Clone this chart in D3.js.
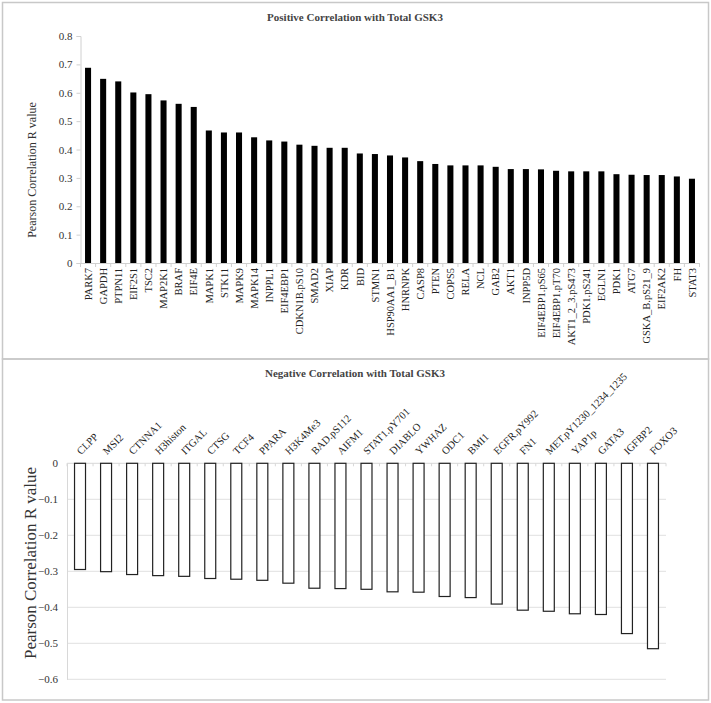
<!DOCTYPE html>
<html><head><meta charset="utf-8">
<script src="https://cdn.jsdelivr.net/npm/d3@7"></script>
<style>body{margin:0;background:#fff}svg{display:block}</style>
</head><body>
<script>
const posCategories = ["PARK7","GAPDH","PTPN11","EIF2S1","TSC2","MAP2K1","BRAF","EIF4E","MAPK1","STK11","MAPK9","MAPK14","INPPL1","EIF4EBP1","CDKN1B.pS10","SMAD2","XIAP","KDR","BID","STMN1","HSP90AA1_B1","HNRNPK","CASP8","PTEN","COPS5","RELA","NCL","GAB2","AKT1","INPP5D","EIF4EBP1.pS65","EIF4EBP1.pT70","AKT1_2_3.pS473","PDK1.pS241","EGLN1","PDK1","ATG7","GSKA_B.pS21_9","EIF2AK2","FH","STAT3"];
const posValues = [0.688,0.649,0.640,0.601,0.595,0.573,0.561,0.550,0.467,0.460,0.460,0.443,0.432,0.428,0.417,0.413,0.406,0.406,0.386,0.384,0.379,0.372,0.359,0.349,0.344,0.344,0.344,0.339,0.331,0.331,0.330,0.325,0.323,0.323,0.323,0.313,0.311,0.310,0.310,0.305,0.297];
const posTicks = [0,0.1,0.2,0.3,0.4,0.5,0.6,0.7,0.8];
const negCategories = ["CLPP","MSI2","CTNNA1","H3histon","ITGAL","CTSG","TCF4","PPARA","H3K4Me3","BAD.pS112","AIFM1","STAT1.pY701","DIABLO","YWHAZ","ODC1","BMI1","EGFR.pY992","FN1","MET.pY1230_1234_1235","YAP1p","GATA3","IGFBP2","FOXO3"];
const negValues = [-0.295,-0.301,-0.309,-0.312,-0.314,-0.320,-0.322,-0.325,-0.333,-0.347,-0.348,-0.350,-0.357,-0.358,-0.370,-0.373,-0.391,-0.408,-0.411,-0.418,-0.420,-0.473,-0.515];
const negTicks = [0,-0.1,-0.2,-0.3,-0.4,-0.5,-0.6];

const W = 711, H = 703;
const serif = "'Liberation Serif','Times New Roman',serif";
const svg = d3.select("body").append("svg").attr("width", W).attr("height", H);

// panel borders
svg.append("rect").attr("x",2.5).attr("y",2.5).attr("width",706).attr("height",356.5)
  .attr("fill","none").attr("stroke","#c8c8c8").attr("stroke-width",1.5);
svg.append("rect").attr("x",2.5).attr("y",359).attr("width",706).attr("height",341)
  .attr("fill","none").attr("stroke","#c8c8c8").attr("stroke-width",1.5);

// ---------- Top chart ----------
{
  const x = d3.scaleBand().domain(posCategories).range([80.5, 699.5]).paddingInner(0.6).paddingOuter(0.3);
  const y = d3.scaleLinear().domain([0, 0.8]).range([263, 36]);
  const g = svg.append("g");

  g.append("text").attr("x", 355).attr("y", 21).attr("text-anchor","middle")
    .attr("font-family", serif).attr("font-weight","bold").attr("font-size", 11).attr("fill","#444")
    .text("Positive Correlation with Total GSK3");

  const ya = g.append("g").attr("transform","translate(80.5,0)")
    .call(d3.axisLeft(y).tickValues(posTicks).tickFormat(d => d === 0 ? "0" : d3.format(".1f")(d)).tickSize(4).tickPadding(4));
  ya.select(".domain").attr("stroke","#d0d0d0");
  ya.selectAll(".tick line").attr("stroke","#d0d0d0");
  ya.selectAll("text").attr("font-family", serif).attr("font-size", 11).attr("fill","#333");

  g.selectAll("rect.bar").data(posValues).join("rect").attr("class","bar")
    .attr("x", (d,i) => x(posCategories[i])).attr("width", x.bandwidth())
    .attr("y", d => y(d)).attr("height", d => y(0) - y(d)).attr("fill","#000");

  const step = x.step();
  const x0 = 80.5;
  g.append("line").attr("x1", x0).attr("x2", 699.5).attr("y1", y(0)+0.5).attr("y2", y(0)+0.5).attr("stroke","#d0d0d0");
  g.selectAll("line.xt").data(d3.range(posCategories.length + 1)).join("line").attr("class","xt")
    .attr("x1", i => x0 + i*step).attr("x2", i => x0 + i*step)
    .attr("y1", y(0)).attr("y2", y(0)+4).attr("stroke","#d0d0d0");

  g.selectAll("text.xl").data(posCategories).join("text").attr("class","xl")
    .attr("transform", d => `translate(${x(d) + x.bandwidth()/2 + 3.7},${y(0) + 5}) rotate(-90)`)
    .attr("text-anchor","end").attr("font-family", serif).attr("font-size", 10.5).attr("fill","#222")
    .text(d => d);

  g.append("text").attr("transform","translate(36,170) rotate(-90)").attr("text-anchor","middle")
    .attr("font-family", serif).attr("font-size", 12).attr("fill","#333")
    .text("Pearson Correlation R value");
}

// ---------- Bottom chart ----------
{
  const x = d3.scaleBand().domain(negCategories).range([67, 666]).paddingInner(0.54).paddingOuter(0.27);
  const y = d3.scaleLinear().domain([-0.6, 0]).range([679.3, 463.3]);
  const g = svg.append("g");

  g.append("text").attr("x", 355).attr("y", 377).attr("text-anchor","middle")
    .attr("font-family", serif).attr("font-weight","bold").attr("font-size", 11).attr("fill","#444")
    .text("Negative Correlation with Total GSK3");

  g.selectAll("line.grid").data(negTicks.filter(d => d !== 0)).join("line").attr("class","grid")
    .attr("x1", 67).attr("x2", 666).attr("y1", d => y(d)).attr("y2", d => y(d))
    .attr("stroke","#e0e0e0").attr("stroke-width",1);

  const ya = g.append("g").attr("transform","translate(67,0)")
    .call(d3.axisLeft(y).tickValues(negTicks).tickFormat(d => d === 0 ? "0" : d3.format(".1f")(d)).tickSize(0).tickPadding(9));
  ya.select(".domain").attr("stroke","#d8d8d8");
  ya.selectAll("text").attr("font-family", serif).attr("font-size", 11).attr("fill","#333");

  const step = x.step();
  g.append("line").attr("x1", 67).attr("x2", 666).attr("y1", y(0)).attr("y2", y(0)).attr("stroke","#d8d8d8");
  g.selectAll("line.xt").data(d3.range(negCategories.length + 1)).join("line").attr("class","xt")
    .attr("x1", i => 67 + i*step).attr("x2", i => 67 + i*step)
    .attr("y1", y(0)).attr("y2", y(0)+3).attr("stroke","#d8d8d8");

  g.selectAll("rect.bar").data(negValues).join("rect").attr("class","bar")
    .attr("x", (d,i) => x(negCategories[i]) + 0.5).attr("width", x.bandwidth() - 1)
    .attr("y", y(0)).attr("height", d => y(d) - y(0))
    .attr("fill","#fff").attr("stroke","#222").attr("stroke-width",1.2);

  g.selectAll("text.xl").data(negCategories).join("text").attr("class","xl")
    .attr("transform", d => `translate(${x(d) + x.bandwidth()/2 + 1},${y(0) - 8}) rotate(-45)`)
    .attr("text-anchor","start").attr("font-family", serif).attr("font-size", 10.5).attr("fill","#222")
    .text(d => d);

  g.append("text").attr("transform","translate(36,563) rotate(-90)").attr("text-anchor","middle")
    .attr("font-family", serif).attr("font-size", 17).attr("fill","#333")
    .text("Pearson Correlation R value");
}
</script>
</body></html>
